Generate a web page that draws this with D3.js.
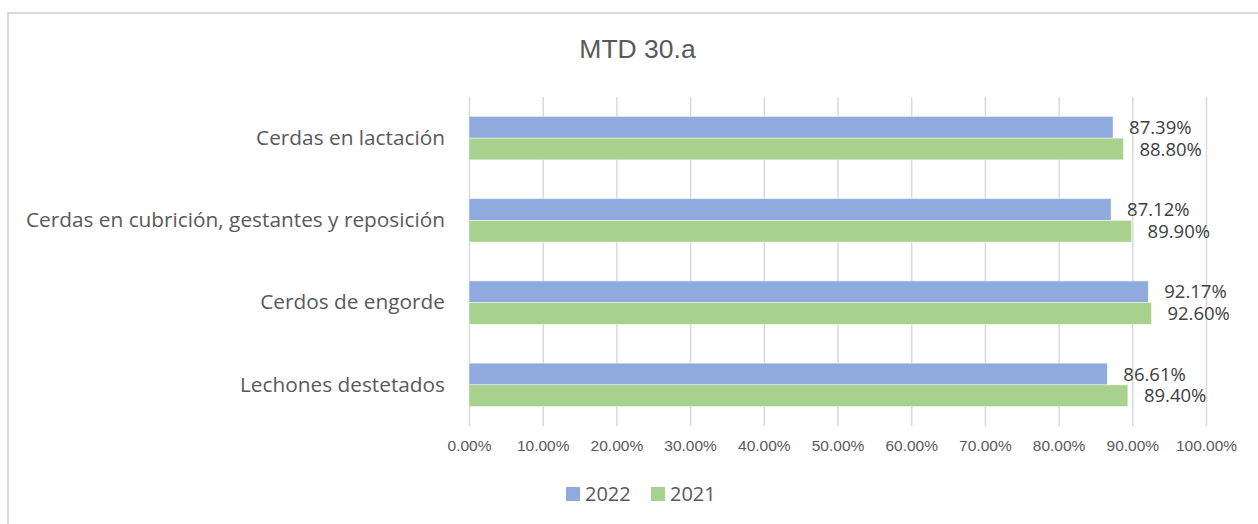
<!DOCTYPE html>
<html>
<head>
<meta charset="utf-8">
<script src="https://cdn.jsdelivr.net/npm/d3@7"></script>
<style>
  html, body { margin: 0; padding: 0; background: #fff; }
  svg { display: block; }
</style>
</head>
<body>
<svg id="chart" width="1258" height="524"></svg>
<script>
const title = "MTD 30.a";
const categories = ["Cerdas en lactación", "Cerdas en cubrición, gestantes y reposición", "Cerdos de engorde", "Lechones destetados"];
const seriesNames = ["2022", "2021"];
const values2022 = [87.39, 87.12, 92.17, 86.61];
const values2021 = [88.80, 89.90, 92.60, 89.40];
const xTicks = [0, 10, 20, 30, 40, 50, 60, 70, 80, 90, 100];
const colors = ["#8FAADC", "#A9D18E"];

(function () {
const seriesValues = [values2022, values2021];
const svg = d3.select("#chart");

// outer frame (only top and left visible in reference)
svg.append("rect")
  .attr("x", 8).attr("y", 13)
  .attr("width", 1270).attr("height", 530)
  .attr("fill", "none").attr("stroke", "#d9d9d9").attr("stroke-width", 2);

const plotLeft = 469, plotRight = 1206, plotTop = 97, plotBottom = 426;

const x = d3.scaleLinear().domain([0, 100]).range([plotLeft, plotRight]);
const y = d3.scaleBand().domain(categories).range([plotTop, plotBottom])
  .paddingInner(0.472).paddingOuter(0.236);
const ySub = d3.scaleBand().domain(seriesNames).range([0, y.bandwidth()]);

// title
svg.append("text")
  .attr("x", 637.5).attr("y", 58)
  .attr("text-anchor", "middle")
  .attr("font-family", "Liberation Sans, Arial, sans-serif")
  .attr("font-size", 26.5)
  .attr("fill", "#595959")
  .text(title);

// gridlines + tick labels
const xAxis = d3.axisBottom(x).tickValues(xTicks)
  .tickSize(-(plotBottom - plotTop))
  .tickFormat(d => d.toFixed(2) + "%");
const gx = svg.append("g").attr("transform", `translate(0,${plotBottom})`).call(xAxis);
gx.select(".domain").remove();
gx.selectAll(".tick line").attr("stroke", "#d9d9d9").attr("stroke-width", 1.5);
gx.selectAll(".tick text")
  .attr("y", 20)
  .attr("dy", "0.32em")
  .attr("font-family", "Liberation Sans, Arial, sans-serif")
  .attr("font-size", 15.5)
  .attr("fill", "#595959");

// category labels
const yAxis = d3.axisLeft(y).tickSize(0).tickPadding(24);
const gy = svg.append("g").attr("transform", `translate(${plotLeft},0)`).call(yAxis);
gy.select(".domain").remove();
gy.selectAll(".tick text")
  .attr("font-family", "Open Sans, sans-serif")
  .attr("font-size", 20.8)
  .attr("fill", "#595959");

// bars
categories.forEach((cat, ci) => {
  seriesNames.forEach((s, si) => {
    const v = seriesValues[si][ci];
    const by = y(cat) + ySub(s);
    svg.append("rect")
      .attr("x", x(0))
      .attr("y", by)
      .attr("width", x(v) - x(0))
      .attr("height", ySub.bandwidth())
      .attr("fill", colors[si])
      .attr("stroke", "#ffffff")
      .attr("stroke-opacity", 0.6)
      .attr("stroke-width", 0.75);
    svg.append("text")
      .attr("x", x(v) + 16)
      .attr("y", by + ySub.bandwidth() / 2)
      .attr("dy", "0.36em")
      .attr("font-family", "Open Sans, sans-serif")
      .attr("font-size", 18.5)
      .attr("fill", "#404040")
      .text(v.toFixed(2) + "%");
  });
});

// legend
const legendItems = [
  { name: seriesNames[0], color: colors[0], x: 566 },
  { name: seriesNames[1], color: colors[1], x: 651 }
];
const lg = svg.append("g");
legendItems.forEach(it => {
  lg.append("rect").attr("x", it.x).attr("y", 487).attr("width", 14).attr("height", 14).attr("fill", it.color);
  lg.append("text")
    .attr("x", it.x + 19).attr("y", 494)
    .attr("dy", "0.36em")
    .attr("font-family", "Open Sans, sans-serif")
    .attr("font-size", 20)
    .attr("fill", "#595959")
    .text(it.name);
});
})();
</script>
</body>
</html>
